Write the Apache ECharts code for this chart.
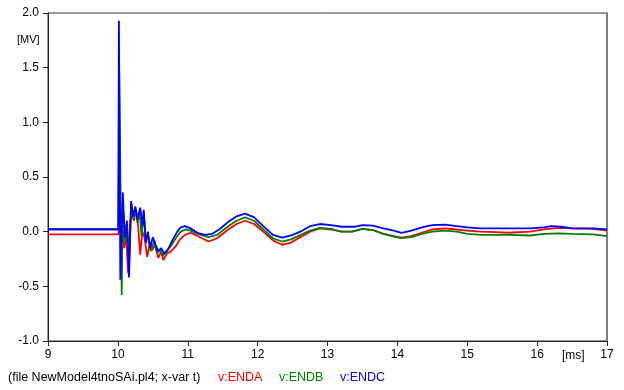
<!DOCTYPE html>
<html>
<head>
<meta charset="utf-8">
<script src="https://cdn.jsdelivr.net/npm/echarts@6/dist/echarts.min.js"></script>
<style>
  html, body { margin: 0; padding: 0; background: #fff; }
  #chart { width: 624px; height: 390px; }
</style>
</head>
<body>
<div id="chart"></div>
<script>
// Time samples [ms] and voltages [MV] for each node
const timeA = [9, 10.01, 10.018, 10.03, 10.045, 10.06, 10.09, 10.12, 10.146, 10.17, 10.2, 10.23, 10.26, 10.29, 10.32, 10.35, 10.38, 10.42, 10.46, 10.49, 10.53, 10.58, 10.62, 10.65, 10.7, 10.76, 10.82, 10.89, 10.96, 11.04, 11.14, 11.3, 11.42, 11.58, 11.7, 11.82, 11.95, 12.1, 12.22, 12.35, 12.48, 12.61, 12.75, 12.89, 13.05, 13.2, 13.35, 13.5, 13.65, 13.8, 13.95, 14.05, 14.2, 14.35, 14.5, 14.68, 14.85, 15.0, 15.2, 15.4, 15.6, 15.9, 16.1, 16.3, 16.5, 16.8, 17];
const endA  = [-0.025, -0.025, 1.06, 0.15, -0.05, 0.1, -0.15, -0.05, -0.38, 0.05, 0.2, 0.1, 0.2, 0.05, -0.21, 0.0, -0.05, -0.23, -0.1, -0.17, -0.12, -0.24, -0.18, -0.26, -0.2, -0.18, -0.14, -0.07, -0.03, -0.01, -0.04, -0.09, -0.06, 0.02, 0.07, 0.10, 0.07, -0.01, -0.08, -0.12, -0.1, -0.05, 0.0, 0.03, 0.02, 0.0, 0.0, 0.025, 0.015, -0.02, -0.04, -0.055, -0.04, -0.01, 0.02, 0.03, 0.02, 0.01, 0.0, -0.005, -0.01, 0.0, 0.02, 0.035, 0.03, 0.025, 0.01];

const timeB = [9, 10.01, 10.02, 10.04, 10.055, 10.07, 10.1, 10.13, 10.16, 10.19, 10.22, 10.25, 10.28, 10.31, 10.34, 10.37, 10.4, 10.43, 10.47, 10.52, 10.56, 10.6, 10.64, 10.7, 10.77, 10.84, 10.9, 10.97, 11.04, 11.14, 11.3, 11.42, 11.58, 11.7, 11.82, 11.95, 12.1, 12.22, 12.35, 12.48, 12.61, 12.75, 12.89, 13.05, 13.2, 13.35, 13.5, 13.65, 13.8, 13.95, 14.05, 14.2, 14.35, 14.5, 14.68, 14.85, 15.0, 15.2, 15.4, 15.6, 15.9, 16.1, 16.3, 16.5, 16.8, 17];
const endB  = [0.025, 0.025, 1.46, 0.3, -0.58, 0.25, -0.1, 0.05, -0.3, 0.25, 0.12, 0.22, 0.08, 0.18, -0.05, 0.18, -0.1, -0.02, -0.18, -0.08, -0.2, -0.16, -0.22, -0.18, -0.12, -0.05, 0.0, 0.02, 0.01, -0.02, -0.05, -0.03, 0.05, 0.1, 0.13, 0.1, 0.01, -0.06, -0.09, -0.07, -0.03, 0.01, 0.035, 0.025, 0.0, 0.0, 0.025, 0.015, -0.02, -0.045, -0.06, -0.05, -0.02, 0.0, 0.01, 0.0, -0.02, -0.03, -0.03, -0.03, -0.035, -0.02, -0.015, -0.02, -0.025, -0.04];

const timeC = [9, 10.005, 10.015, 10.035, 10.07, 10.1, 10.13, 10.16, 10.19, 10.22, 10.25, 10.28, 10.32, 10.35, 10.37, 10.4, 10.43, 10.46, 10.5, 10.54, 10.58, 10.62, 10.66, 10.72, 10.78, 10.85, 10.9, 10.96, 11.04, 11.14, 11.25, 11.35, 11.45, 11.58, 11.7, 11.82, 11.95, 12.1, 12.22, 12.35, 12.48, 12.61, 12.75, 12.89, 13.05, 13.2, 13.4, 13.5, 13.65, 13.8, 13.95, 14.06, 14.2, 14.35, 14.5, 14.68, 14.85, 15.0, 15.2, 15.4, 15.6, 15.9, 16.1, 16.2, 16.35, 16.5, 16.8, 17];
const endC  = [0.02, 0.02, 1.93, -0.44, 0.36, -0.05, 0.1, -0.42, 0.28, 0.14, 0.23, 0.11, 0.22, 0.05, 0.2, -0.1, 0.0, -0.15, -0.05, -0.12, -0.18, -0.15, -0.2, -0.16, -0.08, 0.0, 0.04, 0.05, 0.03, -0.01, -0.03, -0.02, 0.02, 0.09, 0.14, 0.165, 0.13, 0.04, -0.03, -0.055, -0.035, 0.0, 0.05, 0.07, 0.06, 0.045, 0.045, 0.06, 0.055, 0.03, 0.01, -0.01, 0.01, 0.04, 0.06, 0.065, 0.05, 0.04, 0.03, 0.03, 0.03, 0.03, 0.04, 0.05, 0.045, 0.03, 0.03, 0.02];

const xTicks = [9, 10, 11, 12, 13, 14, 15, 16, 17];
const yTicks = [-1.0, -0.5, 0.0, 0.5, 1.0, 1.5, 2.0];
const seriesNames = ['v:ENDA', 'v:ENDB', 'v:ENDC'];
const seriesColors = ['#ff0000', '#008000', '#0000ff'];

const pairs = (t, v) => t.map((x, i) => [x, v[i]]);
const FONT = 'Liberation Sans, Arial, sans-serif';

const chart = echarts.init(document.getElementById('chart'), null, { renderer: 'canvas' });

const lineSeries = [[timeA, endA], [timeB, endB], [timeC, endC]].map((d, i) => ({
  name: seriesNames[i],
  type: 'line',
  data: pairs(d[0], d[1]),
  showSymbol: false,
  animation: false,
  lineStyle: { color: seriesColors[i], width: 1.8 },
  z: 2 + i
}));

chart.setOption({
  animation: false,
  backgroundColor: '#ffffff',
  grid: {
    left: 48, right: 17, top: 13, bottom: 49,
    show: true, borderColor: '#333', borderWidth: 1
  },
  xAxis: {
    type: 'value',
    min: xTicks[0], max: xTicks[xTicks.length - 1], interval: 1,
    axisLine: { show: true, onZero: false, lineStyle: { color: '#222', width: 1 } },
    axisTick: { show: true, length: 5, lineStyle: { color: '#222' } },
    axisLabel: { color: '#000', fontFamily: FONT, fontSize: 12, margin: 8 },
    splitLine: { show: false }
  },
  yAxis: [{
    type: 'value',
    min: yTicks[0], max: yTicks[yTicks.length - 1], interval: 0.5,
    axisLine: { show: true, onZero: false, lineStyle: { color: '#222', width: 1 } },
    axisTick: { show: true, length: 5, lineStyle: { color: '#222' } },
    axisLabel: { color: '#000', fontFamily: FONT, fontSize: 12, margin: 9,
                 formatter: v => v.toFixed(1) },
    splitLine: { show: false }
  }, {
    type: 'value', position: 'right',
    min: yTicks[0], max: yTicks[yTicks.length - 1],
    axisLine: { show: true, lineStyle: { color: '#808080', width: 2 } },
    axisTick: { show: false }, axisLabel: { show: false }, splitLine: { show: false }
  }],
  series: lineSeries,
  graphic: [
    { type: 'text', left: 17, top: 34,
      style: { text: '[MV]', font: '11px ' + FONT, fill: '#000' } },
    { type: 'text', left: 562, top: 350,
      style: { text: '[ms]', font: '12px ' + FONT, fill: '#000' } },
    { type: 'text', left: 8, top: 371,
      style: { text: '(file NewModel4tnoSAi.pl4; x-var t)', font: '12.5px ' + FONT, fill: '#000' } },
    { type: 'text', left: 218, top: 371,
      style: { text: seriesNames[0], font: '12.5px ' + FONT, fill: seriesColors[0] } },
    { type: 'text', left: 279, top: 371,
      style: { text: seriesNames[1], font: '12.5px ' + FONT, fill: seriesColors[1] } },
    { type: 'text', left: 340, top: 371,
      style: { text: seriesNames[2], font: '12.5px ' + FONT, fill: seriesColors[2] } }
  ]
});
</script>
</body>
</html>
